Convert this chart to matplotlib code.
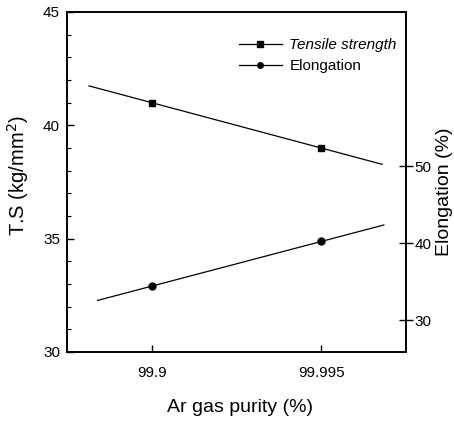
import numpy as np
import matplotlib
matplotlib.use("Agg")
import matplotlib.pyplot as plt
from matplotlib.ticker import MultipleLocator
from matplotlib.lines import Line2D

plt.rcParams['font.family'] = ['Liberation Sans', 'DejaVu Sans']

# Data
purity_labels = ["99.9", "99.995"]
tensile_strength = [41.0, 39.0]      # kg/mm2 (left axis)
elongation = [34.4, 40.2]            # % (right axis)
# extent of the drawn linear fits (in category units)
ts_fit_range = [0.63, 2.36]
el_fit_range = [0.68, 2.37]

x = np.arange(1, len(purity_labels) + 1)

fig = plt.figure(figsize=(4.54, 4.21), dpi=100)
ax = fig.add_axes([0.1476, 0.1639, 0.894 - 0.1476, 0.9715 - 0.1639])
ax2 = ax.twinx()

lw = 0.9
p_ts = np.polyfit(x, tensile_strength, 1)
xf = np.array(ts_fit_range)
ax.plot(xf, np.polyval(p_ts, xf), color='black', lw=lw)
ax.plot(x, tensile_strength, 's', color='black', ms=5)

p_el = np.polyfit(x, elongation, 1)
xf2 = np.array(el_fit_range)
ax2.plot(xf2, np.polyval(p_el, xf2), color='black', lw=lw)
ax2.plot(x, elongation, 'o', color='black', ms=5)

ax.set_xlim(0.5, 2.5)
ax.set_ylim(30, 45)
ax2.set_ylim(25.85, 70)

ax.set_xticks(x)
ax.set_xticklabels(purity_labels)
ax.yaxis.set_major_locator(MultipleLocator(5))
ax.yaxis.set_minor_locator(MultipleLocator(1))
ax2.set_yticks([30, 40, 50])

ax.tick_params(axis='both', which='major', direction='in', length=5, width=1,
               labelsize=11, top=False, right=False, pad=5)
ax.tick_params(axis='y', which='minor', direction='in', length=3, width=0.8)
ax.tick_params(axis='x', which='major', pad=10)
ax2.tick_params(axis='y', which='major', direction='inout', length=10, width=1,
                labelsize=11, pad=1)

for a in (ax, ax2):
    for s in a.spines.values():
        s.set_linewidth(1.2)

ax.set_ylabel("T.S (kg/mm$^2$)", fontsize=14.5)
ax.yaxis.set_label_coords(-0.105, 0.52)
ax2.set_ylabel("Elongation (%)", fontsize=14)
ax2.yaxis.set_label_coords(1.09, 0.47)
ax.set_xlabel("Ar gas purity (%)", fontsize=14)
ax.xaxis.set_label_coords(0.51, -0.137)

h1 = Line2D([], [], color='black', lw=lw, marker='s', ms=4)
h2 = Line2D([], [], color='black', lw=lw, marker='o', ms=4)
leg = ax.legend([h1, h2], ["Tensile strength", "Elongation"], loc='upper right',
                frameon=False, fontsize=11, handlelength=2.8, handletextpad=0.5,
                labelspacing=0.45, bbox_to_anchor=(1.0, 0.95), borderaxespad=0.2)
leg.get_texts()[0].set_fontstyle('italic')

fig.savefig("out.png", dpi=100)
